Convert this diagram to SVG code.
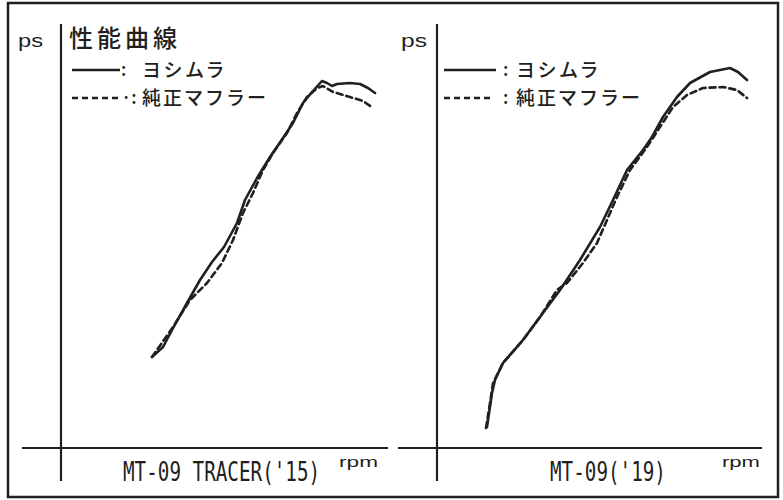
<svg xmlns="http://www.w3.org/2000/svg" width="783" height="500" viewBox="0 0 783 500">
<style>
.ax{stroke:#231f20;stroke-width:2.2;fill:none}
.lg{stroke:#231f20;stroke-width:2.6;fill:none}
.c{stroke:#231f20;stroke-width:2.6;fill:none;stroke-linecap:round;stroke-linejoin:round}
.d{stroke-dasharray:6,4}
.lat{font-family:"Liberation Sans",Arial,sans-serif;fill:#231f20}
.mono{font-family:"DejaVu Sans Mono","Liberation Mono",monospace;fill:#231f20}
.jp{font-family:"Noto Sans CJK JP","Noto Sans",sans-serif;fill:#231f20;font-weight:500}
</style>
<rect x="8" y="3" width="770" height="494" fill="#fff" stroke="#231f20" stroke-width="2.5"/>
<g id="chart-left">
<line class="ax" x1="61" y1="24" x2="61" y2="481"/>
<line class="ax" x1="22" y1="448" x2="388" y2="448"/>
<text class="lat" x="18" y="47" font-size="18" textLength="25" lengthAdjust="spacingAndGlyphs">ps</text>
<text class="jp" x="69" y="47" font-size="24" letter-spacing="4">性能曲線</text>
<line class="lg" x1="72" y1="70" x2="120" y2="70"/>
<line class="lg d" x1="72" y1="98" x2="120" y2="98"/>
<text class="jp" x="121" y="76" font-size="18">:</text>
<text class="jp" x="121" y="104" font-size="18">·:</text>
<text class="jp" x="142" y="77" font-size="19" letter-spacing="2.5">ヨシムラ</text>
<text class="jp" x="142" y="105" font-size="19" letter-spacing="2">純正マフラー</text>
<text class="mono" transform="translate(123,481) scale(0.714,1)" font-size="27">MT-09 TRACER('15)</text>
<text class="lat" x="339" y="467" font-size="15" textLength="39" lengthAdjust="spacingAndGlyphs">rpm</text>
</g>
<g id="chart-right">
<line class="ax" x1="437" y1="24" x2="437" y2="481"/>
<line class="ax" x1="398" y1="448" x2="762" y2="448"/>
<text class="lat" x="401" y="47" font-size="18" textLength="26" lengthAdjust="spacingAndGlyphs">ps</text>
<line class="lg" x1="444" y1="70" x2="496" y2="70"/>
<line class="lg d" x1="444" y1="98" x2="493" y2="98"/>
<text class="jp" x="503" y="76" font-size="18">:</text>
<text class="jp" x="503" y="104" font-size="18">:</text>
<text class="jp" x="516" y="77" font-size="19" letter-spacing="2.5">ヨシムラ</text>
<text class="jp" x="516" y="105" font-size="19" letter-spacing="2">純正マフラー</text>
<text class="mono" transform="translate(550,481) scale(0.714,1)" font-size="27">MT-09('19)</text>
<text class="lat" x="722" y="467" font-size="15" textLength="38" lengthAdjust="spacingAndGlyphs">rpm</text>
</g>
<g id="connectors">
<path class="c" d="M152,357 L163,347 L172,330 L187,303 L200,280 L212,262 L224,247 L237,223 L245,200 L257,178 L270,157 L283,138 L293,123 L303,103 L312,92 L322,81 L327,83 L332,86 L337,84 L350,83 L360,84 L368,88 L375,93"/>
<path class="c d" d="M152,357 L173,327 L190,300 L207,283 L222,263 L233,240 L243,213 L253,193 L263,170 L273,153 L287,133 L297,113 L307,97 L317,88 L323,86 L333,92 L350,97 L363,101 L373,108"/>
<path class="c" d="M487,427 L492,393 L495,380 L503,363 L523,340 L540,317 L560,290 L580,260 L600,227 L613,200 L627,170 L643,150 L652,137 L663,117 L677,97 L690,83 L710,72 L730,68 L738,72 L747,80"/>
<path class="c d" d="M486,428 L490,403 L493,383 L503,363 L523,340 L540,317 L557,290 L567,283 L583,263 L597,243 L607,220 L617,197 L630,170 L647,147 L660,127 L673,107 L687,95 L703,88 L723,87 L737,90 L747,98"/>
</g>
</svg>
